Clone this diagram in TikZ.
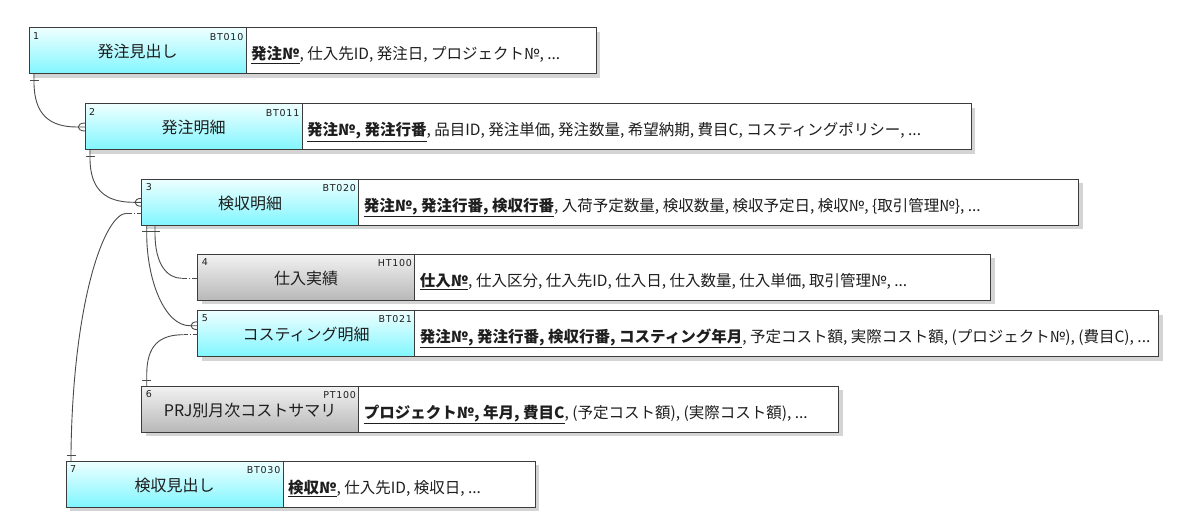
\documentclass[tikz,border=0pt]{standalone}
\usepackage{fontspec}
\newfontfamily\jp{Noto Sans CJK JP}
\newfontfamily\smf[LetterSpace=8]{DejaVu Sans}
\usetikzlibrary{calc,backgrounds}
\definecolor{cyanbot}{HTML}{80F6FF}
\definecolor{cyantop}{HTML}{EEFFFF}
\definecolor{graytop}{HTML}{F2F2F2}
\definecolor{graybot}{HTML}{B8B8B8}
\definecolor{edgec}{HTML}{3C3C3C}
\definecolor{shadec}{HTML}{D4D4D4}
\definecolor{txt}{HTML}{1E1E1E}
\definecolor{wirec}{HTML}{4A4A4A}
\newcommand\keyf[1]{\underline{\textbf{#1}}}
\tikzset{
  ebox/.style={rectangle, draw=edgec, line width=1pt, minimum width=217pt, minimum height=46pt, inner sep=0pt, outer sep=0pt, anchor=north west},
  cybox/.style={ebox, top color=cyantop, bottom color=cyanbot},
  grbox/.style={ebox, top color=graytop, bottom color=graybot},
  abox/.style={rectangle, draw=edgec, line width=1pt, fill=white, minimum height=46pt, inner sep=0pt, outer sep=0pt, anchor=north west},
  numtxt/.style={font=\smf\fontsize{9.5}{10}\selectfont, text=txt, inner sep=0pt, anchor=north west},
  codetxt/.style={font=\smf\fontsize{9.5}{10}\selectfont, text=txt, inner sep=0pt, anchor=north east},
  titletxt/.style={font=\jp\fontsize{16}{18}\selectfont, text=txt, inner sep=0pt, anchor=base},
  attrtxt/.style={font=\jp\fontsize{15.5}{17}\selectfont, text=txt, inner sep=0pt, anchor=base west},
  wire/.style={draw=wirec, line width=0.9pt},
  ddash/.style={wire, dash pattern=on 5pt off 2pt on 1.2pt off 2pt},
}
% #1 name, #2 style, #3 x, #4 y, #5 attr width, #6 num, #7 code, #8 title, #9 attrs
\newcommand\myentity[9]{%
  \node[#2] (#1) at (#3,#4) {};
  \node[abox, minimum width=#5pt] (#1a) at (#1.north east) {};
  \node[numtxt] (#1n) at ($(#1.north west)+(4,4)$) {#6};
  \node[codetxt] (#1c) at ($(#1.north east)+(-2.5,5)$) {#7};
  \node[titletxt] (#1t) at ($(#1.center)+(0,7)$) {#8};
  \node[attrtxt] (#1x) at ($(#1a.west)+(5,9)$) {#9};
}
\newcommand\myshadow[1]{%
  \fill[shadec] ($(#1.north west)+(4,4)$) rectangle ($(#1a.south east)+(4,4)$);
}
\begin{document}
\begin{tikzpicture}[x=1pt,y=-1pt]
\useasboundingbox (0,0) rectangle (1200,532);
\myentity{e1}{cybox}{29}{28}{350}{1}{BT010}{発注見出し}{\keyf{発注№}, 仕入先ID, 発注日, プロジェクト№, ...}
\myentity{e2}{cybox}{85}{104}{669}{2}{BT011}{発注明細}{\keyf{発注№, 発注行番}, 品目ID, 発注単価, 発注数量, 希望納期, 費目C, コスティングポリシー, ...}
\myentity{e3}{cybox}{141.7}{179.3}{720}{3}{BT020}{検収明細}{\keyf{発注№, 発注行番, 検収行番}, 入荷予定数量, 検収数量, 検収予定日, 検収№, \{取引管理№\}, ...}
\myentity{e4}{grbox}{197.7}{254.3}{576}{4}{HT100}{仕入実績}{\keyf{仕入№}, 仕入区分, 仕入先ID, 仕入日, 仕入数量, 仕入単価, 取引管理№, ...}
\myentity{e5}{cybox}{197.7}{310.7}{744}{5}{BT021}{コスティング明細}{\keyf{発注№, 発注行番, 検収行番, コスティング年月}, 予定コスト額, 実際コスト額, (プロジェクト№), (費目C), ...}
\myentity{e6}{grbox}{141.7}{386}{480}{6}{PT100}{PRJ別月次コストサマリ}{\keyf{プロジェクト№, 年月, 費目C}, (予定コスト額), (実際コスト額), ...}
\myentity{e7}{cybox}{66}{461}{252}{7}{BT030}{検収見出し}{\keyf{検収№}, 仕入先ID, 検収日, ...}
\begin{scope}[on background layer]
  \myshadow{e1}\myshadow{e2}\myshadow{e3}\myshadow{e4}\myshadow{e5}\myshadow{e6}\myshadow{e7}
\end{scope}
% 1 -> 2
\coordinate (s12) at ($(e1.south west)+(5,0)$);
\coordinate (t12) at (e2.west);
\draw[wire] (s12) -- ($(s12)+(0,8)$) .. controls ($(s12)+(0,40)$) and ($(t12)+(-36,0)$) .. ($(t12)+(-8,0)$) -- (t12);
\draw[wire] ($(s12)+(-4.5,6)$) -- ($(s12)+(4.5,6)$);
\draw[wire] ($(t12)+(0,-4)$) .. controls ($(t12)+(-9,-4)$) and ($(t12)+(-9,4)$) .. ($(t12)+(0,4)$);
% 2 -> 3
\coordinate (s23) at ($(e2.south west)+(5,0)$);
\coordinate (t23) at (e3.west);
\draw[wire] (s23) -- ($(s23)+(0,8)$) .. controls ($(s23)+(0,40)$) and ($(t23)+(-36,0)$) .. ($(t23)+(-8,0)$) -- (t23);
\draw[wire] ($(s23)+(-4.5,6)$) -- ($(s23)+(4.5,6)$);
\draw[wire] ($(t23)+(0,-4)$) .. controls ($(t23)+(-9,-4)$) and ($(t23)+(-9,4)$) .. ($(t23)+(0,4)$);
% 3 -> 5
\coordinate (s35) at ($(e3.south west)+(5,0)$);
\coordinate (t35) at ($(e5.west)+(0,-8)$);
\draw[wire] (s35) -- ($(s35)+(0,8)$) .. controls ($(s35)+(0,55)$) and ($(t35)+(-33,0)$) .. ($(t35)+(-8,0)$) -- (t35);
\draw[wire] ($(s35)+(-4.5,6)$) -- ($(s35)+(4.5,6)$);
\draw[wire] ($(t35)+(0,-4)$) .. controls ($(t35)+(-9,-4)$) and ($(t35)+(-9,4)$) .. ($(t35)+(0,4)$);
% 3 -> 4
\coordinate (s34) at ($(e3.south west)+(13.3,0)$);
\coordinate (t34) at ($(e4.west)+(0,1)$);
\draw[wire] (s34) -- ($(s34)+(0,8)$) .. controls ($(s34)+(0,40)$) and ($(t34)+(-30,0)$) .. ($(t34)+(-16,0)$);
\draw[ddash] ($(t34)+(-16,0)$) -- (t34);
\draw[wire] ($(s34)+(-4.5,6)$) -- ($(s34)+(4.5,6)$);
% 5 -> 6
\coordinate (s56) at ($(e5.west)+(0,1)$);
\coordinate (t56) at ($(e6.north west)+(5,0)$);
\draw[ddash] (s56) -- ($(s56)+(-14,0)$);
\draw[wire] ($(s56)+(-14,0)$) .. controls ($(s56)+(-38,0)$) and ($(t56)+(0,-41)$) .. ($(t56)+(0,-11)$) -- (t56);
\draw[wire] ($(t56)+(-4.5,-5.5)$) -- ($(t56)+(4.5,-5.5)$);
% 3 -> 7
\coordinate (s37) at ($(e3.west)+(0,11)$);
\coordinate (t37) at ($(e7.north west)+(5,0)$);
\draw[ddash] (s37) -- ($(s37)+(-15,0)$);
\draw[wire] ($(s37)+(-15,0)$) .. controls ($(s37)+(-37,0)$) and ($(t37)+(2,-161)$) .. ($(t37)+(0,-8)$) -- (t37);
\draw[wire] ($(t37)+(-4.5,-6)$) -- ($(t37)+(4.5,-6)$);
\end{tikzpicture}
\end{document}
